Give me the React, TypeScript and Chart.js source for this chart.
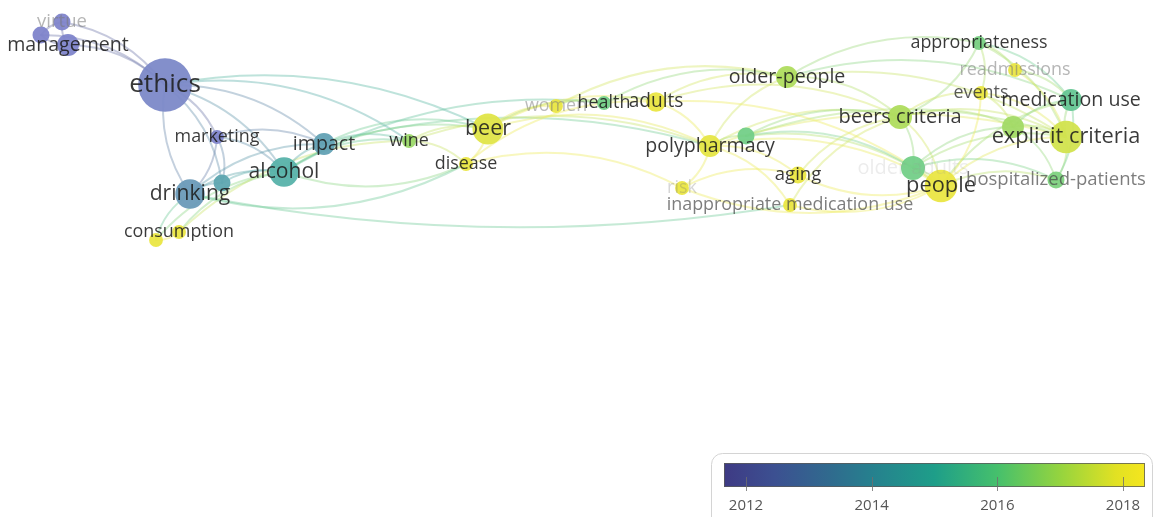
import React, { useEffect, useRef } from "react";
import { Chart, registerables } from "chart.js";

Chart.register(...registerables);

// Keyword map: position on the map, number of occurrences and average publication year.
const keywords = [
  "virtue", "leadership", "management", "ethics", "marketing", "impact", "alcohol",
  "binge drinking", "drinking", "consumption", "alcohol consumption", "wine", "beer",
  "disease", "women", "health", "adults", "older-people", "polypharmacy", "prescribing",
  "risk", "aging", "inappropriate medication use", "appropriateness", "readmissions",
  "events", "medication use", "beers criteria", "medications", "explicit criteria",
  "older adults", "people", "hospitalized-patients",
];
const mapX = [
  62, 41, 68, 165, 217, 324, 284,
  222, 190, 179, 156, 409, 488,
  466, 556, 604, 656, 787, 710, 746,
  682, 798, 790, 979, 1015,
  981, 1071, 900, 1013, 1066,
  913, 941, 1056,
];
const mapY = [
  22, 35, 45, 85, 137, 144, 172,
  183, 194, 232, 240, 141, 129,
  164, 106, 103, 102, 77, 146, 136,
  188, 175, 205, 43, 70,
  93, 100, 117, 127, 137,
  168, 186, 180,
];
const occurrences = [
  3, 3, 5, 30, 2, 5, 9,
  3, 9, 2, 2, 2, 10,
  2, 2, 2, 4, 5, 5, 3,
  2, 3, 2, 2, 2,
  2, 5, 6, 5, 11,
  6, 11, 3,
];
const avgYear = [
  2011.9, 2011.9, 2012.0, 2012.4, 2012.0, 2013.9, 2014.8,
  2014.2, 2013.5, 2018.0, 2018.0, 2016.8, 2017.8,
  2018.0, 2018.0, 2016.1, 2018.0, 2017.1, 2017.9, 2016.1,
  2018.0, 2018.0, 2018.0, 2016.2, 2018.0,
  2018.0, 2015.7, 2017.1, 2016.9, 2017.6,
  2016.1, 2018.0, 2016.3,
];

// Co-occurrence links between keywords.
const links: [string, string][] = [
  ["management", "virtue"], ["leadership", "virtue"], ["management", "leadership"],
  ["virtue", "ethics"], ["management", "ethics"], ["leadership", "ethics"],
  ["ethics", "marketing"], ["drinking", "ethics"], ["ethics", "impact"],
  ["ethics", "alcohol"], ["ethics", "binge drinking"], ["ethics", "beer"], ["ethics", "wine"],
  ["marketing", "drinking"], ["marketing", "alcohol"], ["marketing", "binge drinking"],
  ["marketing", "impact"], ["drinking", "alcohol"], ["drinking", "impact"],
  ["binge drinking", "alcohol"], ["drinking", "binge drinking"],
  ["consumption", "alcohol"], ["alcohol consumption", "drinking"], ["consumption", "wine"],
  ["alcohol consumption", "alcohol"], ["consumption", "alcohol consumption"],
  ["alcohol", "impact"], ["impact", "wine"], ["impact", "beer"], ["alcohol", "beer"],
  ["alcohol", "wine"], ["disease", "alcohol"], ["disease", "drinking"],
  ["inappropriate medication use", "drinking"], ["impact", "polypharmacy"],
  ["alcohol", "health"],
  ["wine", "beer"], ["wine", "disease"], ["wine", "polypharmacy"], ["beer", "disease"],
  ["beer", "women"], ["beer", "health"], ["beer", "adults"], ["disease", "adults"],
  ["women", "health"], ["health", "adults"], ["beer", "polypharmacy"],
  ["disease", "risk"], ["women", "older-people"],
  ["adults", "polypharmacy"], ["adults", "older-people"], ["health", "older-people"],
  ["polypharmacy", "older-people"], ["polypharmacy", "aging"], ["polypharmacy", "risk"],
  ["polypharmacy", "inappropriate medication use"], ["polypharmacy", "beers criteria"],
  ["polypharmacy", "people"], ["polypharmacy", "explicit criteria"], ["polypharmacy", "prescribing"],
  ["prescribing", "beers criteria"], ["prescribing", "people"], ["prescribing", "older adults"],
  ["prescribing", "explicit criteria"], ["people", "risk"], ["risk", "aging"],
  ["people", "aging"], ["aging", "beers criteria"], ["people", "inappropriate medication use"],
  ["inappropriate medication use", "beers criteria"], ["older-people", "beers criteria"],
  ["older-people", "appropriateness"], ["older-people", "medication use"],
  ["older-people", "explicit criteria"], ["adults", "people"], ["adults", "beers criteria"],
  ["appropriateness", "events"], ["appropriateness", "readmissions"],
  ["appropriateness", "medication use"], ["appropriateness", "explicit criteria"],
  ["appropriateness", "beers criteria"], ["beers criteria", "people"],
  ["beers criteria", "explicit criteria"], ["beers criteria", "older adults"],
  ["beers criteria", "events"], ["beers criteria", "medications"],
  ["older adults", "people"], ["older adults", "explicit criteria"],
  ["older adults", "medications"], ["people", "explicit criteria"],
  ["people", "hospitalized-patients"], ["explicit criteria", "hospitalized-patients"],
  ["explicit criteria", "medication use"], ["events", "explicit criteria"],
  ["events", "medications"], ["readmissions", "medication use"],
  ["medication use", "hospitalized-patients"], ["medications", "medication use"],
  ["medications", "explicit criteria"], ["medications", "hospitalized-patients"],
  ["older adults", "hospitalized-patients"], ["people", "medication use"],
  ["events", "people"], ["readmissions", "explicit criteria"],
];

// Colour scale range and tick labels.
const yearMin = 2011.65;
const yearMax = 2018.35;
const yearTicks = [2012, 2014, 2016, 2018];

// Label tone per keyword (default is dark).
const labelTone: Record<string, string> = {
  virtue: "rgba(120,120,120,0.55)",
  leadership: "none",
  "binge drinking": "none",
  "alcohol consumption": "none",
  prescribing: "none",
  medications: "none",
  women: "rgba(120,120,120,0.5)",
  risk: "rgba(120,120,120,0.3)",
  readmissions: "rgba(120,120,120,0.55)",
  "older adults": "rgba(150,150,150,0.18)",
  "hospitalized-patients": "rgba(70,70,70,0.7)",
  "inappropriate medication use": "rgba(70,70,70,0.7)",
  events: "rgba(50,50,50,0.8)",
};

const stops: [number, [number, number, number]][] = [
  [0.0, [62, 58, 132]],
  [0.12, [60, 80, 145]],
  [0.25, [48, 106, 142]],
  [0.35, [38, 128, 142]],
  [0.5, [30, 158, 137]],
  [0.65, [70, 192, 108]],
  [0.8, [150, 212, 62]],
  [0.93, [225, 225, 35]],
  [1.0, [245, 230, 30]],
];

const yearT = (year: number) => Math.min(1, Math.max(0, (year - yearMin) / (yearMax - yearMin)));

function yearColor(year: number): [number, number, number] {
  const t = yearT(year);
  for (let i = 1; i < stops.length; i++) {
    if (t <= stops[i][0]) {
      const [t0, c0] = stops[i - 1];
      const [t1, c1] = stops[i];
      const f = (t - t0) / (t1 - t0);
      return [0, 1, 2].map((k) => Math.round(c0[k] + (c1[k] - c0[k]) * f)) as [number, number, number];
    }
  }
  return stops[stops.length - 1][1];
}

function tint(c: [number, number, number], w: number, a = 1): string {
  const m = c.map((v) => Math.min(255, Math.round(v + (255 - v) * w)));
  return `rgba(${m[0]},${m[1]},${m[2]},${a})`;
}

// Node fill: paler and slightly bluer for older keywords.
function nodeColor(year: number): string {
  const t = yearT(year);
  const base = yearColor(year);
  const old = Math.pow(1 - t, 4);
  const shifted: [number, number, number] = [base[0] + 4 * old, base[1] + 6 * old, base[2] + 48 * old];
  return tint(shifted, 0.34 - 0.2 * t, 0.95);
}

const radiusOf = (occ: number) => 4.9 * Math.sqrt(occ);
const fontOf = (occ: number) => 15 + 2.04 * Math.sqrt(occ);
const FONT = "'Open Sans', 'Noto Sans', sans-serif";

const linkPlugin = {
  id: "keywordLinks",
  beforeDatasetsDraw(chart: any) {
    const { ctx, scales } = chart;
    ctx.save();
    ctx.lineCap = "round";
    links.forEach(([a, b]) => {
      const i = keywords.indexOf(a);
      const j = keywords.indexOf(b);
      if (i < 0 || j < 0) return;
      const x1 = scales.x.getPixelForValue(mapX[i]);
      const y1 = scales.y.getPixelForValue(mapY[i]);
      const x2 = scales.x.getPixelForValue(mapX[j]);
      const y2 = scales.y.getPixelForValue(mapY[j]);
      const dx = x2 - x1;
      const dy = y2 - y1;
      const len = Math.hypot(dx, dy) || 1;
      const bend = Math.min(0.2 * len, 55) / len;
      const cx = (x1 + x2) / 2 + dy * bend;
      const cy = (y1 + y2) / 2 - dx * bend;
      const col = yearColor((avgYear[i] + avgYear[j]) / 2);
      ctx.strokeStyle = tint(col, 0.3, 0.42);
      ctx.lineWidth = 2;
      ctx.beginPath();
      ctx.moveTo(x1, y1);
      ctx.quadraticCurveTo(cx, cy, x2, y2);
      ctx.stroke();
    });
    ctx.restore();
  },
};

const labelPlugin = {
  id: "keywordLabels",
  afterDatasetsDraw(chart: any) {
    const { ctx, scales } = chart;
    ctx.save();
    ctx.textAlign = "center";
    ctx.textBaseline = "middle";
    keywords.forEach((k, i) => {
      const tone = labelTone[k] ?? "rgba(30,30,30,0.88)";
      if (tone === "none") return;
      ctx.font = `${fontOf(occurrences[i]).toFixed(1)}px ${FONT}`;
      ctx.fillStyle = tone;
      ctx.fillText(k, scales.x.getPixelForValue(mapX[i]), scales.y.getPixelForValue(mapY[i]));
    });
    ctx.restore();
  },
};

const colorBarPlugin = {
  id: "yearColorBar",
  afterDraw(chart: any) {
    const { ctx } = chart;
    const bx = 711, by = 453, bw = 441, bh = 80, rad = 11;
    ctx.save();
    ctx.fillStyle = "#ffffff";
    ctx.strokeStyle = "#d4d4d4";
    ctx.lineWidth = 1;
    ctx.beginPath();
    ctx.roundRect(bx + 0.5, by + 0.5, bw, bh, rad);
    ctx.fill();
    ctx.stroke();

    const x0 = 724, x1 = 1145, y0 = 463, y1 = 487;
    const grad = ctx.createLinearGradient(x0, 0, x1, 0);
    stops.forEach(([t, c]) => grad.addColorStop(t, `rgb(${c[0]},${c[1]},${c[2]})`));
    ctx.fillStyle = grad;
    ctx.fillRect(x0, y0, x1 - x0, y1 - y0);
    ctx.strokeStyle = "rgba(90,90,90,0.8)";
    ctx.strokeRect(x0 + 0.5, y0 + 0.5, x1 - x0 - 1, y1 - y0 - 1);

    ctx.font = `15px ${FONT}`;
    ctx.textAlign = "center";
    ctx.textBaseline = "middle";
    yearTicks.forEach((yr) => {
      const x = x0 + yearT(yr) * (x1 - x0);
      ctx.strokeStyle = "rgba(110,110,110,0.8)";
      ctx.beginPath();
      ctx.moveTo(Math.round(x) + 0.5, 477);
      ctx.lineTo(Math.round(x) + 0.5, 491);
      ctx.stroke();
      ctx.fillStyle = "#555";
      ctx.fillText(String(yr), x, 506);
    });
    ctx.restore();
  },
};

export default function App() {
  const canvasRef = useRef<HTMLCanvasElement | null>(null);

  useEffect(() => {
    const canvas = canvasRef.current;
    if (!canvas) return;
    const points = keywords.map((_, i) => ({ x: mapX[i], y: mapY[i], r: radiusOf(occurrences[i]) }));
    const chart = new Chart(canvas, {
      type: "bubble",
      data: {
        datasets: [
          {
            data: points,
            backgroundColor: avgYear.map((yr) => nodeColor(yr)),
            borderWidth: 0,
            hoverRadius: 0,
            clip: false as any,
          },
        ],
      },
      options: {
        responsive: false,
        maintainAspectRatio: false,
        animation: false,
        events: [],
        layout: { padding: 0, autoPadding: false },
        plugins: { legend: { display: false }, tooltip: { enabled: false } },
        scales: {
          x: { type: "linear", min: 0, max: 1155, display: false },
          y: { type: "linear", min: 0, max: 517, reverse: true, display: false },
        },
      },
      plugins: [linkPlugin, labelPlugin, colorBarPlugin],
    });
    return () => chart.destroy();
  }, []);

  return (
    <div style={{ position: "fixed", left: 0, top: 0, width: 1155, height: 517, background: "#fff" }}>
      <canvas ref={canvasRef} width={1155} height={517} style={{ display: "block" }} />
    </div>
  );
}
